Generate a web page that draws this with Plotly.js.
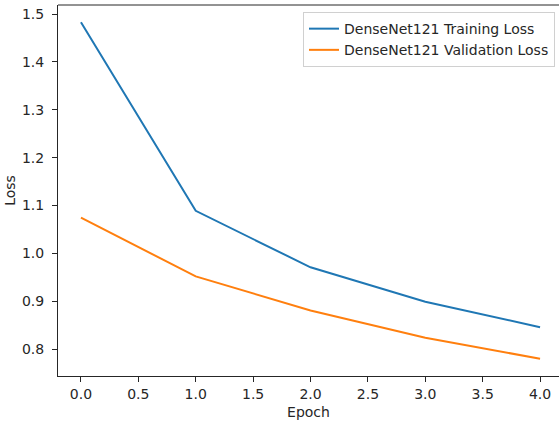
<!DOCTYPE html>
<html>
<head>
<meta charset="utf-8">
<script src="https://cdn.plot.ly/plotly-3.0.1.min.js"></script>
<style>html,body{margin:0;padding:0;background:#fff;}#chart{width:559px;height:424px;}</style>
</head>
<body>
<div id="chart"></div>
<script>
const epochs = [0, 1, 2, 3, 4];
const trainLoss = [1.483, 1.089, 0.971, 0.899, 0.846];
const valLoss = [1.075, 0.952, 0.881, 0.824, 0.780];
const seriesNames = ["DenseNet121 Training Loss", "DenseNet121 Validation Loss"];
const xTicks = [0, 0.5, 1, 1.5, 2, 2.5, 3, 3.5, 4];
const xTickText = ["0.0", "0.5", "1.0", "1.5", "2.0", "2.5", "3.0", "3.5", "4.0"];
const yTicks = [0.8, 0.9, 1.0, 1.1, 1.2, 1.3, 1.4, 1.5];
const yTickText = ["0.8", "0.9", "1.0", "1.1", "1.2", "1.3", "1.4", "1.5"];

const font = {family: "DejaVu Sans", size: 14, color: "#262626"};

const traces = [
  {x: epochs, y: trainLoss, name: seriesNames[0], mode: "lines", line: {color: "#1f77b4", width: 2}},
  {x: epochs, y: valLoss, name: seriesNames[1], mode: "lines", line: {color: "#ff7f0e", width: 2}}
];

const layout = {
  width: 559, height: 424,
  margin: {l: 58, r: 0, t: 5, b: 48},
  paper_bgcolor: "#fff", plot_bgcolor: "#fff",
  font: font,
  showlegend: true,
  legend: {x: 0.992, y: 0.981, xanchor: "right", yanchor: "top",
    bgcolor: "#fff", bordercolor: "#d0d0d0", borderwidth: 1,
    font: {family: "DejaVu Sans", size: 14, color: "#262626"}, tracegroupgap: 0},
  xaxis: {range: [-0.2, 4.165], tickvals: xTicks, ticktext: xTickText,
    showgrid: false, zeroline: false, showline: true, linecolor: "#262626", linewidth: 1,
    ticks: "outside", ticklen: 5, tickcolor: "#262626", tickwidth: 1,
    title: {text: "Epoch", font: font, standoff: 6}},
  yaxis: {range: [0.744, 1.519], tickvals: yTicks, ticktext: yTickText,
    showgrid: false, zeroline: false, showline: true, linecolor: "#262626", linewidth: 1,
    ticks: "outside", ticklen: 5, tickcolor: "#262626", tickwidth: 1,
    ticklabelstandoff: 5,
    title: {text: "Loss", font: font, standoff: 3}},
  shapes: [{type: "line", xref: "paper", yref: "paper", x0: 0, x1: 1, y0: 1, y1: 1,
    line: {color: "#262626", width: 1}}]
};

Plotly.newPlot("chart", traces, layout, {displayModeBar: false, staticPlot: true});
</script>
</body>
</html>
